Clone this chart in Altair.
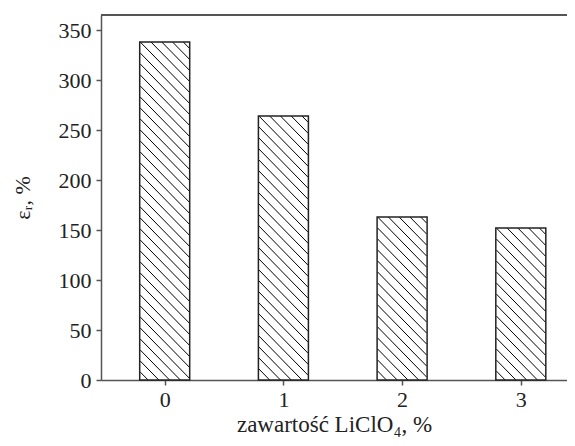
import altair as alt
import pandas as pd
import math

# ---- data ----
categories = [0, 1, 2, 3]
values = [338, 264, 163, 152]
y_ticks = [0, 50, 100, 150, 200, 250, 300, 350]
x_title = "zawartość LiClO₄, %"
y_title = "εᵣ, %"

# ---- layout constants ----
W_PLOT = 466
H_PLOT = 365
X_DOMAIN = [-0.4945, 3.347]
Y_DOMAIN = [0, 365]
BAR_PX = 50
HATCH_STEP = 11

px_x = W_PLOT / (X_DOMAIN[1] - X_DOMAIN[0])
px_y = H_PLOT / (Y_DOMAIN[1] - Y_DOMAIN[0])

bars = pd.DataFrame({"cat": categories, "val": values})

# hatch segments derived from each bar's extent
rows = []
for cat, val in zip(categories, values):
    H = val * px_y
    k0 = math.ceil(-BAR_PX / HATCH_STEP)
    k1 = math.floor(H / HATCH_STEP)
    for k in range(k0, k1 + 1):
        c = k * HATCH_STEP
        u0 = max(0.0, -c)
        u1 = min(BAR_PX, H - c)
        if u1 - u0 <= 0.5:
            continue
        left = cat - BAR_PX / 2 / px_x
        rows.append({
            "x": left + u0 / px_x, "y": val - (u0 + c) / px_y,
            "x2": left + u1 / px_x, "y2": val - (u1 + c) / px_y,
        })
hatch = pd.DataFrame(rows)

xs = alt.Scale(domain=X_DOMAIN, nice=False, zero=False)
ys = alt.Scale(domain=Y_DOMAIN, nice=False)

x_axis = alt.Axis(values=categories, format="d", title=x_title, labelPadding=4,
                  titlePadding=3, titleFontSize=23)
y_axis = alt.Axis(values=y_ticks, title=y_title, labelPadding=5, titlePadding=24)

base_fill = alt.Chart(bars).mark_bar(size=BAR_PX, fill="white", stroke=None).encode(
    x=alt.X("cat:Q", scale=xs, axis=x_axis),
    y=alt.Y("val:Q", scale=ys, axis=y_axis),
)

hatch_lines = alt.Chart(hatch).mark_rule(color="#000", strokeWidth=1).encode(
    x=alt.X("x:Q", scale=xs),
    x2="x2:Q",
    y=alt.Y("y:Q", scale=ys),
    y2="y2:Q",
)

outline = alt.Chart(bars).mark_bar(size=BAR_PX, fillOpacity=0, stroke="#222",
                                   strokeWidth=1.5).encode(
    x=alt.X("cat:Q", scale=xs),
    y=alt.Y("val:Q", scale=ys),
)

top_line = alt.Chart(bars).mark_rule(color="#555", strokeWidth=1.5).encode(
    x=alt.value(0), x2=alt.value(W_PLOT), y=alt.value(0)
)

chart = alt.layer(base_fill, hatch_lines, outline, top_line).properties(
    width=W_PLOT, height=H_PLOT,
    autosize=alt.AutoSizeParams(type="none"),
    padding={"left": 93, "top": 7, "right": 0, "bottom": 62},
).configure_view(stroke=None).configure_axis(
    grid=False,
    domainColor="#555", domainWidth=1.5,
    tickColor="#555", tickWidth=1.5, tickSize=5,
    labelFont="Liberation Serif", labelFontSize=22, labelColor="#222",
    titleFont="Liberation Serif", titleFontSize=22, titleColor="#222",
    titleFontWeight="normal",
)

chart.save("out.html", embed_options={"renderer": "svg", "actions": False})
